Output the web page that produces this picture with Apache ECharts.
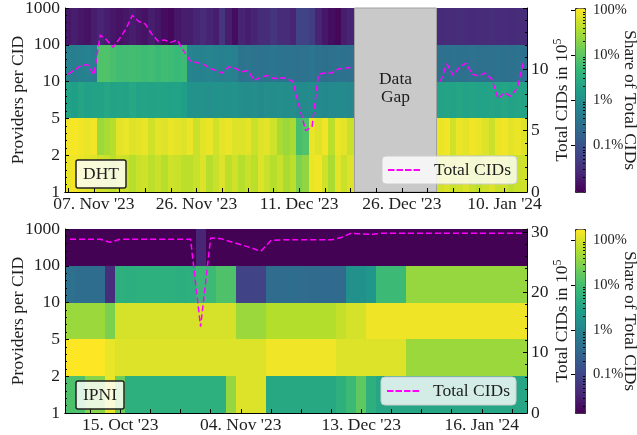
<!DOCTYPE html>
<html><head><meta charset="utf-8">
<script src="https://cdn.jsdelivr.net/npm/echarts@6/dist/echarts.min.js"></script>
<style>html,body{margin:0;padding:0;background:#fff}#c{width:637px;height:435px}</style>
</head><body><div id="c"></div>
<script>
// ---------- shared ----------
const bandNames = ['1-2', '2-5', '5-10', '10-100', '100-1000'];
const bandLabels = ['1', '2', '5', '10', '100', '1000'];
const cbTicks = [0, -1, -2, -3];
const cbLabels = ['100%', '10%', '1%', '0.1%'];

// ---------- DHT (top) ----------
const dhtTickIdx = [4, 20, 36, 52, 68];
const dhtTickLabels = ["07. Nov '23", "26. Nov '23", "11. Dec '23", "26. Dec '23", "10. Jan '24"];
const dhtGapStart = 45, dhtGapEnd = 57;
const dhtTotal = [9.6, 9.95, 10.3, 10.4, 9.55, 12.8, 12.4, 11.8, 12.5, 13.3,
  14.4, 13.9, 13.7, 12.9, 12.3, 12.4, 12.2, 12.4, 11.5, 10.7,
  10.55, 10.45, 10.1, 9.9, 9.7, 10.2, 10.1, 9.8, 9.9, 9.1,
  9.35, 9.5, 9.25, 9.3, 9.3, 9.0, 7.0, 5.0, 5.3, 9.6,
  9.7, 9.7, 10.0, 10.1, 10.15,
  null, null, null, null, null, null, null, null, null, null, null, null, null,
  9.0, 10.45, 9.5, 10.2, 10.5, 9.6, 9.45, 9.7, 9.2, 7.6, 8.1, 7.8, 8.5, 10.7];
// shares in percent of total CIDs, per provider band (null = data gap)
const dhtShare1000 = [0.017,0.02,0.017,0.015,0.02, 0.024,0.02,0.017,0.015,0.017, 0.02,0.017,0.015,0.02,0.017, 0.013,0.011,0.017,0.02,
  0.02,0.024,0.03,0.024,0.02, 0.038,0.02,0.013,0.024,0.02, 0.024,0.03,0.03,0.038,0.03,0.03,0.024, 0.06,0.06,0.05, 0.024,0.017,0.013,0.011,0.02,0.024,
  null, null, null, null, null, null, null, null, null, null, null, null, null,
  0.028,0.03,0.03,0.032,0.03,0.028,0.03,0.03,0.032,0.03,0.03,0.028,0.03,0.03];
const dhtShare100 = [0.55,0.5,0.55,0.6,0.52, 8,8,7,6,6,6.5,6,5.6,6,5.3,6,5.6,5.2,5.6,
  0.65,0.62,0.6,0.65,0.6,0.56,0.6,0.55, 0.34,0.37,0.34,0.32,0.34,0.37,0.34,0.32,0.34, 0.3,0.32,0.36,0.3,0.28,0.3,0.32,0.3,0.3,
  null, null, null, null, null, null, null, null, null, null, null, null, null,
  0.3,0.3,0.32,0.3,0.3,0.32,0.3,0.3,0.3,0.32,0.3,0.3,0.32,0.3];
const dhtShare10 = [2.1,1.8,2.3,1.9,2.1, 2.1,2.4,2.1,2.2,2.1,2.5,2.1,2.2,2.1,2.2,2.1,1.9,2.1,1.8,
  1.15,1.1,1.15,1.0,1.15,1.1,1.0,1.15, 0.95,0.9,0.95,0.85,0.95,0.9,0.95,0.9,0.95, 0.8,0.85,0.9,0.8,0.75,0.8,0.85,0.8,0.75,
  null, null, null, null, null, null, null, null, null, null, null, null, null,
  2.0,2.2,2.0,2.3,2.0,2.2,2.0,2.0,2.2,2.0,2.3,2.0,2.2,2.0];
const dhtShare5 = [92,100,92,84,92, 27,33,40, 76,84,69,76,84,57,76,69,84,76,69,
  84,52,76,84,57,76,84,69, 69,76,52,69,76,57,33,27,33, 6.6,8, 84,69,92,43,84,76,52,
  null, null, null, null, null, null, null, null, null, null, null, null, null,
  84,92,57,84,76,92,84,69,52,84,92,76,84,69];
const dhtShare2 = [84,92,84,76,69, 57,52,43,57,52,40,52,57,43,52,40,57,52,43,
  43,52,69,40,52,69,43,57,40,52,43,69,52,40,52,33,43, 17,23, 84,92,57,33,76,52,69,
  null, null, null, null, null, null, null, null, null, null, null, null, null,
  57,69,52,57,69,52,43,57,69,52,57,43,52,57];

// ---------- IPNI (bottom) ----------
const ipniTickIdx = [5, 17, 29, 41];
const ipniTickLabels = ["15. Oct '23", "04. Nov '23", "13. Dec '23", "16. Jan '24"];
const ipniTotal = [28.8,28.8,28.8,28.8,28.3,28.8,28.8,28.8,28.8,28.8,28.8,28.8,28.8,14.3,
  29.0,28.9,28.4,27.9,27.4,26.8,28.6,28.7,28.7,28.7,28.7,28.7,28.7,29.1,29.8,29.7,29.6,
  29.8,29.8,29.8,29.8,29.8,29.8,29.8,29.8,29.8,29.8,29.8,29.8,29.8,29.8,29.8];
const ipniShare1000 = [0.014,0.014,0.014,0.014,0.014,0.014,0.014,0.014,0.014,0.014,0.014,0.014,0.014,0.036,
  0.014,0.014,0.014,0.014,0.014,0.014,0.014,0.014,0.014,0.014,0.014,0.014,0.014,0.014,0.014,0.014,0.014,
  0.014,0.014,0.014,0.014,0.014,0.014,0.014,0.014,0.014,0.014,0.014,0.014,0.014,0.014,0.014];
const ipniShare100 = [0.46,0.4,0.4,0.4,0.047,5.4,5.2,5.4,5.6,5.4,5.4,5.2,5.6,8.7,
  8.7,12.5,12.5,0.09,0.09,0.09,0.38,0.38,0.4,0.38,0.36,0.35,0.35,0.36,1.6,1.6,2.0,
  8.7,8.7,8.7,40,40,40,40,40,40,40,40,40,40,40,40];
const ipniShare10 = [43,43,43,43,27,102,102,102,102,102,102,102,102,102,
  102,102,102,43,43,43,63,63,63,63,63,63,63,80,100,100,148,
  148,148,148,148,148,148,148,148,148,148,148,148,148,148,148];
const ipniShare5 = [180,180,180,180,135,112,112,112,112,112,112,112,112,112,
  112,112,112,112,112,112,150,150,150,150,150,150,150,112,112,112,112,
  112,112,112,43,43,43,43,43,43,43,43,43,43,43,43];
const ipniShare2 = [12,12,32,32,135,22,5.4,5.4,5.4,5.4,5.4,5.4,5.4,5.4,
  5.4,5.4,40,112,112,112,4.1,4.1,4.1,4.1,4.1,4.1,4.1,5.4,8.7,17,5.4,
  3.8,3.8,3.8,3.8,3.8,3.8,3.8,3.8,3.8,3.8,3.8,3.8,3.8,3.8,3.8];

// ---------- build ----------
const viridis = ['#440154','#482878','#3e4a89','#31688e','#26828e','#1f9e89','#35b779','#6dcd59','#b4de2c','#fde725'];
const font = 'Liberation Serif';
const ink = '#1e1e1e';
const FS = 17.5;
function heat(bands) {
  const d = [];
  bands.forEach((arr, y) => arr.forEach((v, x) => { if (v != null) d.push([x, y, Math.log10(v / 100)]); }));
  return d;
}
function cellRender(params, api) {
  const p = api.coord([api.value(0), api.value(1)]);
  const s = api.size([1, 1]);
  const x0 = Math.round(p[0] - s[0] / 2), x1 = Math.round(p[0] + s[0] / 2);
  const y0 = Math.round(p[1] - s[1] / 2), y1 = Math.round(p[1] + s[1] / 2);
  return { type: 'rect', shape: { x: x0, y: y0, width: x1 - x0, height: y1 - y0 }, style: { fill: api.visual('color') } };
}
const dhtCats = dhtTotal.map((_, i) => String(i));
const ipniCats = ipniTotal.map((_, i) => String(i));
const dhtRightMax = 15, ipniRightMax = 30.5;

function gapRender(params, api) {
  const a = api.coord([api.value(0), dhtRightMax]);
  const b = api.coord([api.value(1), 0]);
  const w = api.size([1, 0])[0];
  const x0 = Math.round(a[0] - w / 2), x1 = Math.round(b[0] + w / 2);
  return { type: 'group', children: [
    { type: 'rect', shape: { x: x0 + 0.5, y: a[1], width: x1 - x0 - 1, height: b[1] - a[1] },
      style: { fill: '#c9c9c9', stroke: '#a0a0a0', lineWidth: 1 } },
    { type: 'text', style: { text: 'Data\nGap', x: (x0 + x1) / 2, y: a[1] + 62, align: 'center', verticalAlign: 'top',
      textAlign: 'center', textVerticalAlign: 'top', font: FS + 'px "Liberation Serif"', fill: ink, lineHeight: 18 } }
  ] };
}

const cbMinor = [];
for (let d = -5; d <= 0; d++) for (let k = 2; k <= 9; k++) cbMinor.push(d + Math.log10(k));

function bottomX(gi, cats, tickFn, idxs, labels) {
  return {
    gridIndex: gi, type: 'category', data: cats, boundaryGap: true, z: 10,
    axisLine: { show: true, lineStyle: { color: '#000', width: 1 } },
    axisTick: { show: true, inside: true, length: 4, alignWithLabel: true, interval: tickFn, lineStyle: { color: '#000' } },
    axisLabel: { interval: (i) => idxs.includes(i), formatter: (v, i) => labels[idxs.indexOf(i)] || '',
      color: ink, fontSize: FS, margin: 3, fontFamily: font, hideOverlap: false },
    splitLine: { show: false }
  };
}
function topX(gi, cats) {
  return { gridIndex: gi, type: 'category', data: cats, position: 'top', z: 10,
    axisLine: { show: true, lineStyle: { color: '#000', width: 1 } }, axisTick: { show: false }, axisLabel: { show: false } };
}
function leftY(gi) {
  return { gridIndex: gi, type: 'value', min: 0, max: 5, interval: 1, position: 'left', z: 10,
    axisLine: { show: true, lineStyle: { color: '#000' } },
    axisTick: { show: true, inside: true, length: 4, lineStyle: { color: '#000' } },
    minorTick: { show: true, splitNumber: 5, length: 2, lineStyle: { color: '#000' } },
    axisLabel: { formatter: (v) => bandLabels[v], color: ink, fontSize: FS, margin: 5, fontFamily: font },
    splitLine: { show: false },
    name: 'Providers per CID', nameLocation: 'middle', nameGap: 38, nameRotate: 90, nameMoveOverlap: false,
    nameTextStyle: { fontSize: FS, color: ink, fontFamily: font } };
}
function rightY(gi, max, interval) {
  return { gridIndex: gi, type: 'value', min: 0, max: max, interval: interval, position: 'right', z: 10,
    axisLine: { show: true, lineStyle: { color: '#000' } },
    axisTick: { show: true, inside: true, length: 4, lineStyle: { color: '#000' } },
    minorTick: { show: true, splitNumber: 5, length: 2, lineStyle: { color: '#000' } },
    axisLabel: { color: ink, fontSize: FS, margin: 4, showMaxLabel: false, fontFamily: font },
    splitLine: { show: false },
    name: '{a|Total CIDs in 10}{s|5}', nameLocation: 'middle', nameGap: 25, nameRotate: 90, nameMoveOverlap: false,
    nameTextStyle: { color: ink, fontFamily: font, rich: { a: { fontSize: FS, fontFamily: font, color: ink },
      s: { fontSize: 12, fontFamily: font, color: ink, padding: [0, 0, 9, 0] } } } };
}
function cbY(gi, min, max) {
  return [{ gridIndex: gi, type: 'value', min: min, max: max, position: 'right', z: 10,
      axisLine: { show: false }, splitLine: { show: false },
      axisTick: { show: true, inside: true, length: 4, customValues: cbTicks, lineStyle: { color: '#000' } },
      axisLabel: { customValues: cbTicks, formatter: (v) => cbLabels[cbTicks.indexOf(v)] || '', color: ink, fontSize: 14.5, margin: 8, fontFamily: font },
      name: 'Share of Total CIDs', nameLocation: 'middle', nameGap: 36, nameRotate: -90, nameMoveOverlap: false,
      nameTextStyle: { fontSize: FS, color: ink, fontFamily: font } },
    { gridIndex: gi, type: 'value', min: min, max: max, position: 'right', z: 10,
      axisLine: { show: false }, splitLine: { show: false }, axisLabel: { show: false },
      axisTick: { show: true, inside: true, length: 2, customValues: cbMinor.filter(v => v > min && v < max), lineStyle: { color: '#000' } } }];
}
const dashIcon = 'path://M0,0H6.5V2H0Z M8.5,0H15V2H8.5Z M17,0H23.5V2H17Z M25.5,0H32V2H25.5Z';
function legendAt(left, top) {
  return { data: [{ name: 'Total CIDs', icon: dashIcon, itemStyle: { color: '#ff00ff' } }], left: left, top: top, selectedMode: false,
    itemWidth: 32, itemHeight: 2, symbolKeepAspect: false,
    padding: [5, 6, 5, 6], backgroundColor: 'rgba(255,255,255,0.8)', borderColor: '#cccccc', borderWidth: 1, borderRadius: 4,
    textStyle: { fontSize: FS, color: ink, fontFamily: font, padding: [0, 0, 0, 9] }, z: 20 };
}
function boxTitle(text, top) {
  return { text: text, left: 76, top: top, padding: [5, 7, 4, 7], backgroundColor: 'rgba(255,255,255,0.82)',
    borderColor: '#222', borderWidth: 1.5, borderRadius: 2, z: 20,
    textStyle: { fontSize: FS, fontWeight: 'normal', color: ink, fontFamily: font, lineHeight: 19 } };
}
function gridAt(left, top, width, height) {
  return { left: left, top: top, width: width, height: height, containLabel: false, outerBoundsMode: 'none' };
}

const option = {
  animation: false,
  textStyle: { fontFamily: font },
  title: [boxTitle('DHT', 160), boxTitle('IPNI', 381)],
  legend: [legendAt(382, 156), legendAt(381, 377)],
  grid: [gridAt(65, 8, 462, 184), gridAt(65, 229, 462, 184), gridAt(575, 8, 10, 184), gridAt(575, 229, 10, 184)],
  xAxis: [
    bottomX(0, dhtCats, (i) => i % 4 === 0, dhtTickIdx, dhtTickLabels),
    topX(0, dhtCats),
    bottomX(1, ipniCats, (i) => i % 3 === 2, ipniTickIdx, ipniTickLabels),
    topX(1, ipniCats),
    { gridIndex: 2, type: 'value', show: false, min: 0, max: 1 },
    { gridIndex: 3, type: 'value', show: false, min: 0, max: 1 }
  ],
  yAxis: [
    { gridIndex: 0, type: 'category', data: bandNames, show: false },
    leftY(0),
    rightY(0, dhtRightMax, 5),
    { gridIndex: 1, type: 'category', data: bandNames, show: false },
    leftY(1),
    rightY(1, ipniRightMax, 10),
    ...cbY(2, -4.03, 0.04),
    ...cbY(3, -3.86, 0.255)
  ],
  visualMap: [
    { type: 'continuous', seriesIndex: 0, dimension: 2, min: -4.03, max: 0.04, inRange: { color: viridis },
      left: 575, top: 8, itemWidth: 10, itemHeight: 184, calculable: false, hoverLink: false, padding: 0,
      borderWidth: 1, borderColor: '#222', z: 5 },
    { type: 'continuous', seriesIndex: 3, dimension: 2, min: -3.86, max: 0.255, inRange: { color: viridis },
      left: 575, top: 229, itemWidth: 10, itemHeight: 184, calculable: false, hoverLink: false, padding: 0,
      borderWidth: 1, borderColor: '#222', z: 5 }
  ],
  series: [
    { type: 'custom', name: 'DHT share', xAxisIndex: 0, yAxisIndex: 0, renderItem: cellRender,
      dimensions: ['x', 'y', 'v'], encode: { x: 0, y: 1 },
      data: heat([dhtShare2, dhtShare5, dhtShare10, dhtShare100, dhtShare1000]), z: 1, silent: true },
    { type: 'custom', name: 'Data Gap', xAxisIndex: 0, yAxisIndex: 2, renderItem: gapRender,
      encode: { x: [0, 1] }, data: [[dhtGapStart, dhtGapEnd]], z: 2, silent: true },
    { type: 'line', name: 'Total CIDs', xAxisIndex: 0, yAxisIndex: 2, data: dhtTotal, showSymbol: false, symbol: 'none',
      connectNulls: false, z: 3, lineStyle: { color: '#ff00ff', width: 1.5, type: [6, 3] }, itemStyle: { color: '#ff00ff' } },
    { type: 'custom', name: 'IPNI share', xAxisIndex: 2, yAxisIndex: 3, renderItem: cellRender,
      dimensions: ['x', 'y', 'v'], encode: { x: 0, y: 1 },
      data: heat([ipniShare2, ipniShare5, ipniShare10, ipniShare100, ipniShare1000]), z: 1, silent: true },
    { type: 'line', name: 'Total CIDs', xAxisIndex: 2, yAxisIndex: 5, data: ipniTotal, showSymbol: false, symbol: 'none',
      z: 3, lineStyle: { color: '#ff00ff', width: 1.5, type: [6, 3] }, itemStyle: { color: '#ff00ff' } }
  ]
};
const chart = echarts.init(document.getElementById('c'), null, { renderer: 'canvas' });
chart.setOption(option);
</script>
</body></html>
